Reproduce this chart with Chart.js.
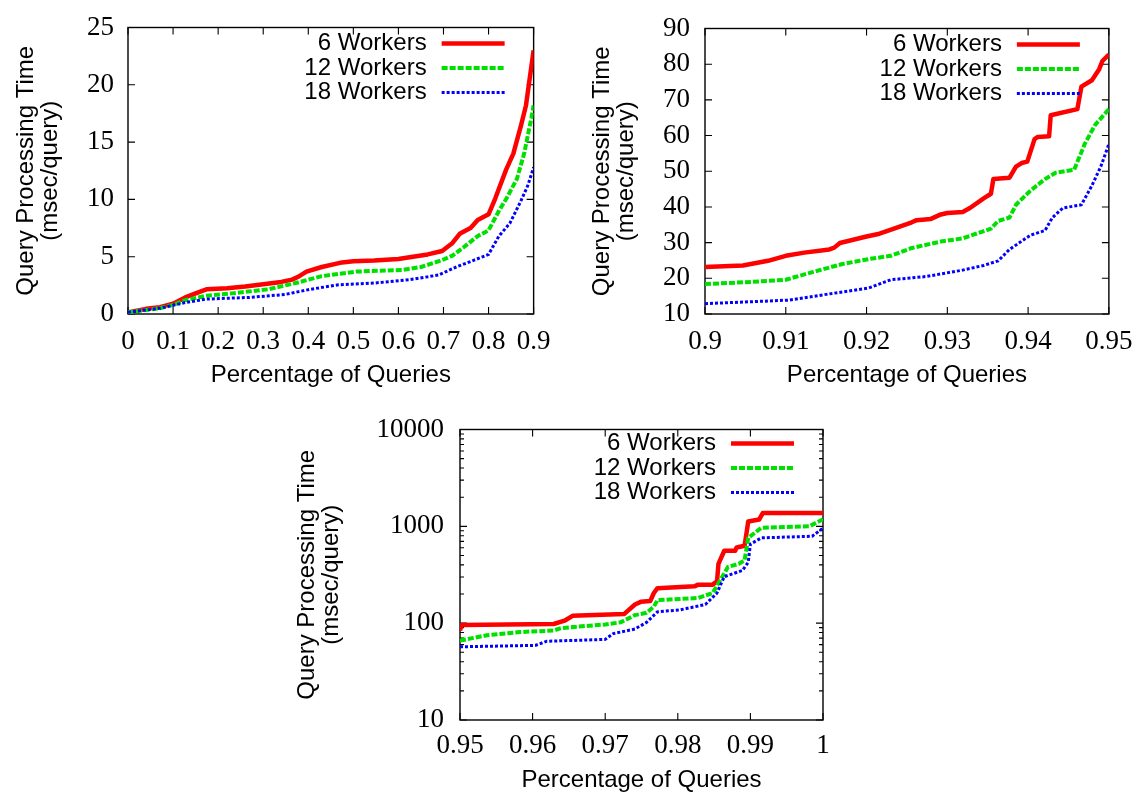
<!DOCTYPE html>
<html><head><meta charset="utf-8">
<script src="https://cdn.jsdelivr.net/npm/chart.js@4.4.0/dist/chart.umd.min.js"></script>
<style>
html,body{margin:0;padding:0;background:#fff;width:1147px;height:793px;overflow:hidden}
canvas{position:absolute}
</style></head><body>
<canvas id="c1" width="565" height="395" style="left:0;top:0"></canvas>
<canvas id="c2" width="567" height="395" style="left:580px;top:0"></canvas>
<canvas id="c3" width="580" height="393" style="left:280px;top:400px"></canvas>
<script>
// ---------- data ----------
const seriesNames = ["6 Workers", "12 Workers", "18 Workers"];
const xTitle = "Percentage of Queries";
const yTitle = ["Query Processing Time", "(msec/query)"];

// chart 1 : 0 .. 0.9
const c1XTicks = [0, 0.1, 0.2, 0.3, 0.4, 0.5, 0.6, 0.7, 0.8, 0.9];
const c1YTicks = [0, 5, 10, 15, 20, 25];
const c1x6 = [0,0.008,0.04,0.071,0.1,0.127,0.15,0.174,0.22,0.26,0.30,0.34,0.364,0.38,0.396,0.43,0.475,0.5,0.546,0.6,0.625,0.665,0.697,0.72,0.736,0.76,0.776,0.80,0.815,0.839,0.855,0.871,0.883,0.895,0.9];
const c1y6 = [0.15,0.2,0.45,0.6,0.9,1.45,1.8,2.15,2.24,2.4,2.6,2.8,3.0,3.3,3.7,4.1,4.5,4.6,4.67,4.8,4.95,5.2,5.5,6.2,7.0,7.5,8.2,8.7,10.1,12.6,14.0,16.3,18.2,21.6,23.0];
const c1x12 = [0,0.008,0.071,0.1,0.127,0.174,0.23,0.31,0.372,0.43,0.507,0.61,0.65,0.697,0.72,0.744,0.776,0.80,0.823,0.84,0.863,0.879,0.895,0.9];
const c1y12 = [0.15,0.2,0.5,0.8,1.2,1.6,1.8,2.15,2.7,3.3,3.7,3.85,4.1,4.7,5.1,5.8,6.8,7.3,9.0,10.1,11.8,14.0,17.1,18.2];
const c1x18 = [0,0.008,0.071,0.127,0.174,0.27,0.348,0.404,0.467,0.546,0.625,0.689,0.728,0.768,0.80,0.823,0.847,0.871,0.887,0.9];
const c1y18 = [0.15,0.2,0.5,1.0,1.3,1.45,1.7,2.15,2.55,2.7,3.0,3.4,4.1,4.7,5.2,6.8,7.9,9.8,11.2,12.8];

// chart 2 : 0.9 .. 0.95
const c2XTicks = [0.9, 0.91, 0.92, 0.93, 0.94, 0.95];
const c2YTicks = [10, 20, 30, 40, 50, 60, 70, 80, 90];
const c2x6 = [0.9,0.9047,0.9078,0.910,0.9123,0.9154,0.9160,0.9167,0.920,0.9216,0.9234,0.9256,0.9262,0.9279,0.9292,0.9300,0.9319,0.9328,0.9345,0.9354,0.9357,0.9377,0.9385,0.9392,0.9399,0.9408,0.9412,0.9426,0.9428,0.9461,0.9466,0.9479,0.9488,0.9492,0.95];
const c2y6 = [23.2,23.6,24.9,26.3,27.2,28.1,28.6,29.9,31.7,32.5,33.9,35.7,36.3,36.6,37.9,38.3,38.6,39.7,42.4,43.7,47.8,48.2,51.3,52.3,52.7,59.0,59.6,59.8,65.7,67.4,73.7,75.5,78.6,80.9,82.7];
const c2x12 = [0.9,0.905,0.910,0.9134,0.917,0.9203,0.923,0.9256,0.9292,0.9319,0.9354,0.9363,0.9377,0.9385,0.9403,0.9421,0.9434,0.9457,0.9470,0.9483,0.95];
const c2y12 = [18.4,18.9,19.6,21.8,24.0,25.4,26.3,28.5,30.3,31.2,33.9,36.1,37.0,40.6,44.6,47.8,49.6,50.4,57.6,63.0,67.4];
const c2x18 = [0.9,0.9105,0.915,0.9203,0.923,0.9274,0.9319,0.9345,0.9363,0.9377,0.9403,0.9421,0.943,0.9443,0.9466,0.9479,0.949,0.95];
const c2y18 = [12.9,13.9,15.5,17.3,19.6,20.5,22.3,23.6,24.9,28.1,32.1,33.4,37.0,39.7,40.6,46.0,51.3,57.6];

// chart 3 : 0.95 .. 1 (log y)
const c3XTicks = [0.95, 0.96, 0.97, 0.98, 0.99, 1];
const c3YTicks = [10, 100, 1000, 10000];
const c3x6 = [0.95,0.9502,0.9629,0.9644,0.9655,0.9726,0.9731,0.9741,0.9749,0.9762,0.9767,0.9772,0.9823,0.9828,0.9848,0.9854,0.9856,0.9864,0.9879,0.9881,0.9892,0.9897,0.9912,0.9917,1.0];
const c3y6 = [84,96,98,106,119,124,134,156,166,169,205,230,240,250,250,270,410,560,560,605,630,1120,1175,1370,1370];
const c3x12 = [0.95,0.9537,0.9583,0.9629,0.9639,0.97,0.9721,0.9741,0.9757,0.9767,0.9772,0.9828,0.9848,0.9856,0.9869,0.9884,0.9892,0.9897,0.9915,0.9981,1.0];
const c3y12 = [66,75,81,84,89,97,102,121,128,148,173,182,205,258,380,410,445,760,965,1000,1180];
const c3x18 = [0.95,0.9604,0.9619,0.97,0.9711,0.9741,0.9757,0.9772,0.9803,0.9838,0.9854,0.9864,0.9889,0.9897,0.99,0.9915,0.9985,1.0];
const c3y18 = [57,59,65,68,78,87,102,131,137,156,205,302,350,425,655,760,790,960];

// ---------- style ----------
const seriesColors = ["#ff0000", "#00e000", "#0000ff"];
const seriesWidths = [4.5, 4, 3];
const seriesDashes = [[], [6, 2], [3, 2]];
const tickFont = {family: "'Liberation Serif', 'DejaVu Serif', serif", size: 27, lineHeight: 1};
const sansFont = {family: "'Liberation Sans', Arial, sans-serif", size: 24, lineHeight: 1};

const framePlugin = {
  id: 'gframe',
  beforeDatasetsDraw(chart) {
    const {ctx, chartArea: a, scales} = chart;
    ctx.save();
    ctx.strokeStyle = '#000';
    ctx.lineWidth = 1.4;
    ctx.strokeRect(a.left, a.top, a.right - a.left, a.bottom - a.top);
    const L = 7, Lm = 4;
    ctx.lineWidth = 1.1;
    ctx.beginPath();
    scales.x.ticks.forEach(t => {
      const px = scales.x.getPixelForValue(t.value);
      ctx.moveTo(px, a.bottom); ctx.lineTo(px, a.bottom - L);
      ctx.moveTo(px, a.top); ctx.lineTo(px, a.top + L);
    });
    const ys = scales.y;
    ys.ticks.forEach(t => {
      const py = ys.getPixelForValue(t.value);
      ctx.moveTo(a.left, py); ctx.lineTo(a.left + L, py);
      ctx.moveTo(a.right, py); ctx.lineTo(a.right - L, py);
    });
    if (ys.type === 'logarithmic') {
      for (let d = ys.min; d < ys.max; d *= 10) {
        for (let k = 2; k <= 9; k++) {
          const py = ys.getPixelForValue(d * k);
          ctx.moveTo(a.left, py); ctx.lineTo(a.left + Lm, py);
          ctx.moveTo(a.right, py); ctx.lineTo(a.right - Lm, py);
        }
      }
    }
    ctx.stroke();
    ctx.restore();
  }
};

const keyPlugin = {
  id: 'gkey',
  afterDatasetsDraw(chart, args, o) {
    const {ctx, chartArea: a} = chart;
    ctx.save();
    ctx.font = `${sansFont.size}px ${sansFont.family}`;
    ctx.fillStyle = '#000';
    ctx.textAlign = 'right';
    ctx.textBaseline = 'middle';
    chart.data.datasets.forEach((d, i) => {
      const y = a.top + o.top + i * o.spacing;
      const x2 = a.right - o.margin, x1 = x2 - o.len;
      ctx.fillText(d.label, x1 - o.gap, y);
      ctx.beginPath();
      ctx.setLineDash(d.borderDash || []);
      ctx.lineWidth = d.borderWidth;
      ctx.strokeStyle = d.borderColor;
      ctx.moveTo(x1, y); ctx.lineTo(x2, y);
      ctx.stroke();
    });
    ctx.restore();
  }
};

function build(id, p) {
  const datasets = p.series.map((s, i) => ({
    label: seriesNames[i],
    data: s[0].map((x, j) => ({x: x, y: s[1][j]})),
    borderColor: seriesColors[i],
    borderWidth: seriesWidths[i],
    borderDash: seriesDashes[i],
    borderCapStyle: 'butt',
    borderJoinStyle: 'round',
    pointRadius: 0,
    fill: false,
    tension: 0,
    order: 2 - i
  }));
  return new Chart(document.getElementById(id), {
    type: 'line',
    data: {datasets},
    options: {
      responsive: false,
      animation: false,
      events: [],
      layout: {padding: {left: 0, top: p.padTop, right: p.padRight, bottom: 0}},
      plugins: {
        legend: {display: false},
        tooltip: {enabled: false},
        gkey: {top: p.keyTop, spacing: 24.5, margin: 29, len: 63, gap: 15}
      },
      scales: {
        x: {
          type: 'linear', min: p.xTicks[0], max: p.xTicks[p.xTicks.length - 1],
          grid: {display: false, drawTicks: false},
          border: {display: false},
          ticks: {font: tickFont, color: '#000', padding: p.xTickPad, maxRotation: 0, autoSkip: false,
                  callback: v => String(v)},
          afterBuildTicks: s => { s.ticks = p.xTicks.map(v => ({value: v})); },
          afterFit: s => { s.height = p.xHeight; },
          title: {display: true, text: xTitle, font: sansFont, color: '#000',
                  padding: {top: 0, bottom: p.xTitlePad}}
        },
        y: {
          type: p.log ? 'logarithmic' : 'linear',
          min: p.yTicks[0], max: p.yTicks[p.yTicks.length - 1],
          grid: {display: false, drawTicks: false},
          border: {display: false},
          ticks: {font: tickFont, color: '#000', padding: p.yTickPad, autoSkip: false,
                  callback: v => String(v)},
          afterBuildTicks: s => { s.ticks = p.yTicks.map(v => ({value: v})); },
          afterFit: s => { s.width = p.yWidth; },
          title: {display: true, text: yTitle, font: sansFont, color: '#000',
                  padding: {top: p.yTitlePad, bottom: 0}}
        }
      }
    },
    plugins: [framePlugin, keyPlugin]
  });
}

build('c1', {
  series: [[c1x6, c1y6], [c1x12, c1y12], [c1x18, c1y18]],
  xTicks: c1XTicks, yTicks: c1YTicks, log: false,
  padTop: 17, padRight: 31, yWidth: 128, xHeight: 81, keyTop: 16,
  xTickPad: 14.5, yTickPad: 14, xTitlePad: 8, yTitlePad: 14
});
build('c2', {
  series: [[c2x6, c2y6], [c2x12, c2y12], [c2x18, c2y18]],
  xTicks: c2XTicks, yTicks: c2YTicks, log: false,
  padTop: 16, padRight: 36, yWidth: 125, xHeight: 81, keyTop: 16,
  xTickPad: 14.5, yTickPad: 15, xTitlePad: 8, yTitlePad: 10
});
build('c3', {
  series: [[c3x6, c3y6], [c3x12, c3y12], [c3x18, c3y18]],
  xTicks: c3XTicks, yTicks: c3YTicks, log: true,
  padTop: 23, padRight: 37, yWidth: 180, xHeight: 73, keyTop: 14,
  xTickPad: 12.5, yTickPad: 16, xTitlePad: 1, yTitlePad: 15
});
</script>
</body></html>
